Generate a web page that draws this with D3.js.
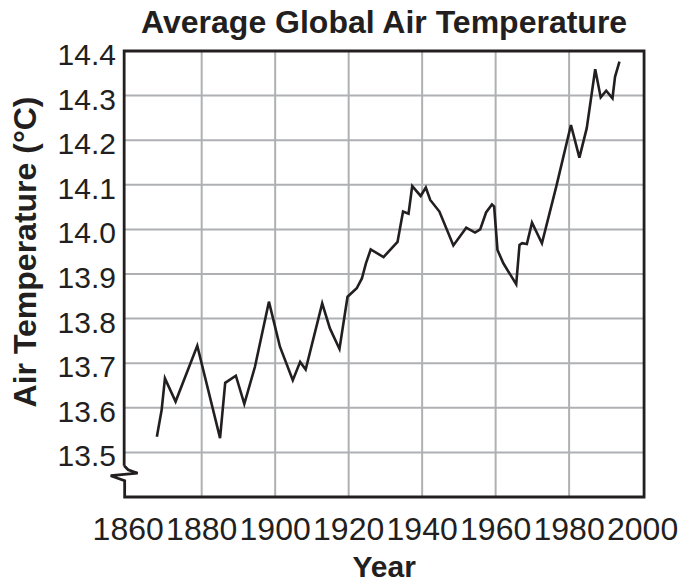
<!DOCTYPE html>
<html>
<head>
<meta charset="utf-8">
<script src="https://cdn.jsdelivr.net/npm/d3@7"></script>
<style>
  body { margin: 0; background: #fff; }
  text { font-family: "Liberation Sans", Arial, Helvetica, sans-serif; fill: #231f20; }
</style>
</head>
<body>
<div id="chart"></div>
<script>
// data
var years = [1867.8, 1869.1, 1870.0, 1872.9, 1878.8, 1885.0, 1886.4, 1889.3, 1891.6, 1894.5,
             1898.3, 1901.3, 1904.8, 1906.8, 1908.3, 1912.8, 1914.9, 1917.5, 1919.0, 1919.7,
             1922.2, 1923.6, 1924.7, 1926.0, 1929.5, 1933.3, 1934.8, 1936.3, 1937.3, 1939.6,
             1941.0, 1942.2, 1944.7, 1948.5, 1952.0, 1954.4, 1955.8, 1957.4, 1959.0, 1959.6,
             1960.5, 1962.1, 1965.6, 1966.5, 1967.2, 1968.5, 1969.9, 1972.6, 1976.5, 1980.5,
             1982.8, 1984.8, 1987.1, 1988.6, 1990.1, 1991.8, 1992.5, 1993.7];
var temps = [13.535, 13.595, 13.666, 13.614, 13.739, 13.532, 13.656, 13.672, 13.609, 13.692,
             13.838, 13.737, 13.662, 13.703, 13.686, 13.834, 13.778, 13.732, 13.812, 13.849,
             13.868, 13.890, 13.924, 13.955, 13.938, 13.972, 14.040, 14.035, 14.097, 14.075,
             14.094, 14.066, 14.040, 13.964, 14.004, 13.993, 14.000, 14.038, 14.056, 14.051,
             13.954, 13.924, 13.877, 13.965, 13.969, 13.967, 14.015, 13.969, 14.096, 14.234,
             14.161, 14.227, 14.359, 14.296, 14.311, 14.294, 14.342, 14.376];
var xTicks = [1860, 1880, 1900, 1920, 1940, 1960, 1980, 2000];
var yTicks = [13.5, 13.6, 13.7, 13.8, 13.9, 14.0, 14.1, 14.2, 14.3, 14.4];

var width = 680, height = 583;
var ink = "#231f20", gridColor = "#aeb0b3";

var x = d3.scaleLinear().domain([1860, 2000]).range([128.2, 642.6]);
var y = d3.scaleLinear().domain([13.4, 14.4]).range([497, 51]);

// frame edges (a bit wider than the tick range on the left/right)
var frameL = x(1858.9), frameR = x(2000.4), frameT = y(14.4), frameB = y(13.4);

var svg = d3.select("#chart").append("svg")
    .attr("width", width)
    .attr("height", height);

// grid
svg.append("g").selectAll("line")
    .data(yTicks.filter(function(d){ return d < 14.4; }))
    .enter().append("line")
    .attr("x1", frameL).attr("x2", frameR)
    .attr("y1", function(d){ return y(d); })
    .attr("y2", function(d){ return y(d); })
    .style("stroke", gridColor).style("stroke-width", 2);

svg.append("g").selectAll("line")
    .data(xTicks.filter(function(d){ return d > 1860 && d < 2000; }))
    .enter().append("line")
    .attr("y1", frameT).attr("y2", frameB)
    .attr("x1", function(d){ return x(d); })
    .attr("x2", function(d){ return x(d); })
    .style("stroke", gridColor).style("stroke-width", 2);

// frame with the axis break on the left side
var brk = y(13.45);
var frame = d3.path();
frame.moveTo(frameL, brk - 9);
frame.lineTo(frameL, frameT);
frame.lineTo(frameR, frameT);
frame.lineTo(frameR, frameB);
frame.lineTo(frameL + 0.5, frameB);
frame.lineTo(frameL + 0.5, brk + 6);
frame.lineTo(frameL - 13.5, brk + 1);
frame.lineTo(frameL + 13.5, brk - 1.5);
frame.lineTo(frameL + 4, brk - 5);
frame.lineTo(frameL, brk - 9);
svg.append("path")
    .attr("d", frame.toString())
    .style("fill", "none")
    .style("stroke", ink)
    .style("stroke-width", 2.8)
    .style("stroke-linejoin", "miter");

// temperature line
var line = d3.line()
    .x(function(d, i){ return x(years[i]); })
    .y(function(d){ return y(d); });

svg.append("path")
    .datum(temps)
    .attr("d", line)
    .style("fill", "none")
    .style("stroke", ink)
    .style("stroke-width", 2.6)
    .style("stroke-linejoin", "miter");

// tick labels
svg.append("g").selectAll("text")
    .data(yTicks)
    .enter().append("text")
    .attr("x", 116)
    .attr("y", function(d){ return y(d) + 14; })
    .attr("text-anchor", "end")
    .style("font-size", "30px")
    .text(function(d){ return d3.format(".1f")(d); });

svg.append("g").selectAll("text")
    .data(xTicks)
    .enter().append("text")
    .attr("x", function(d){ return x(d); })
    .attr("y", 540)
    .attr("text-anchor", "middle")
    .style("font-size", "32px")
    .text(function(d){ return d; });

// titles
svg.append("text")
    .attr("x", (frameL + frameR) / 2)
    .attr("y", 33)
    .attr("text-anchor", "middle")
    .style("font-size", "32px")
    .style("font-weight", "bold")
    .text("Average Global Air Temperature");

svg.append("text")
    .attr("x", (frameL + frameR) / 2)
    .attr("y", 577)
    .attr("text-anchor", "middle")
    .style("font-size", "30px")
    .style("font-weight", "bold")
    .text("Year");

svg.append("text")
    .attr("transform", "translate(36," + 252 + ") rotate(-90)")
    .attr("text-anchor", "middle")
    .style("font-size", "32px")
    .style("font-weight", "bold")
    .text("Air Temperature (°C)");
</script>
</body>
</html>
